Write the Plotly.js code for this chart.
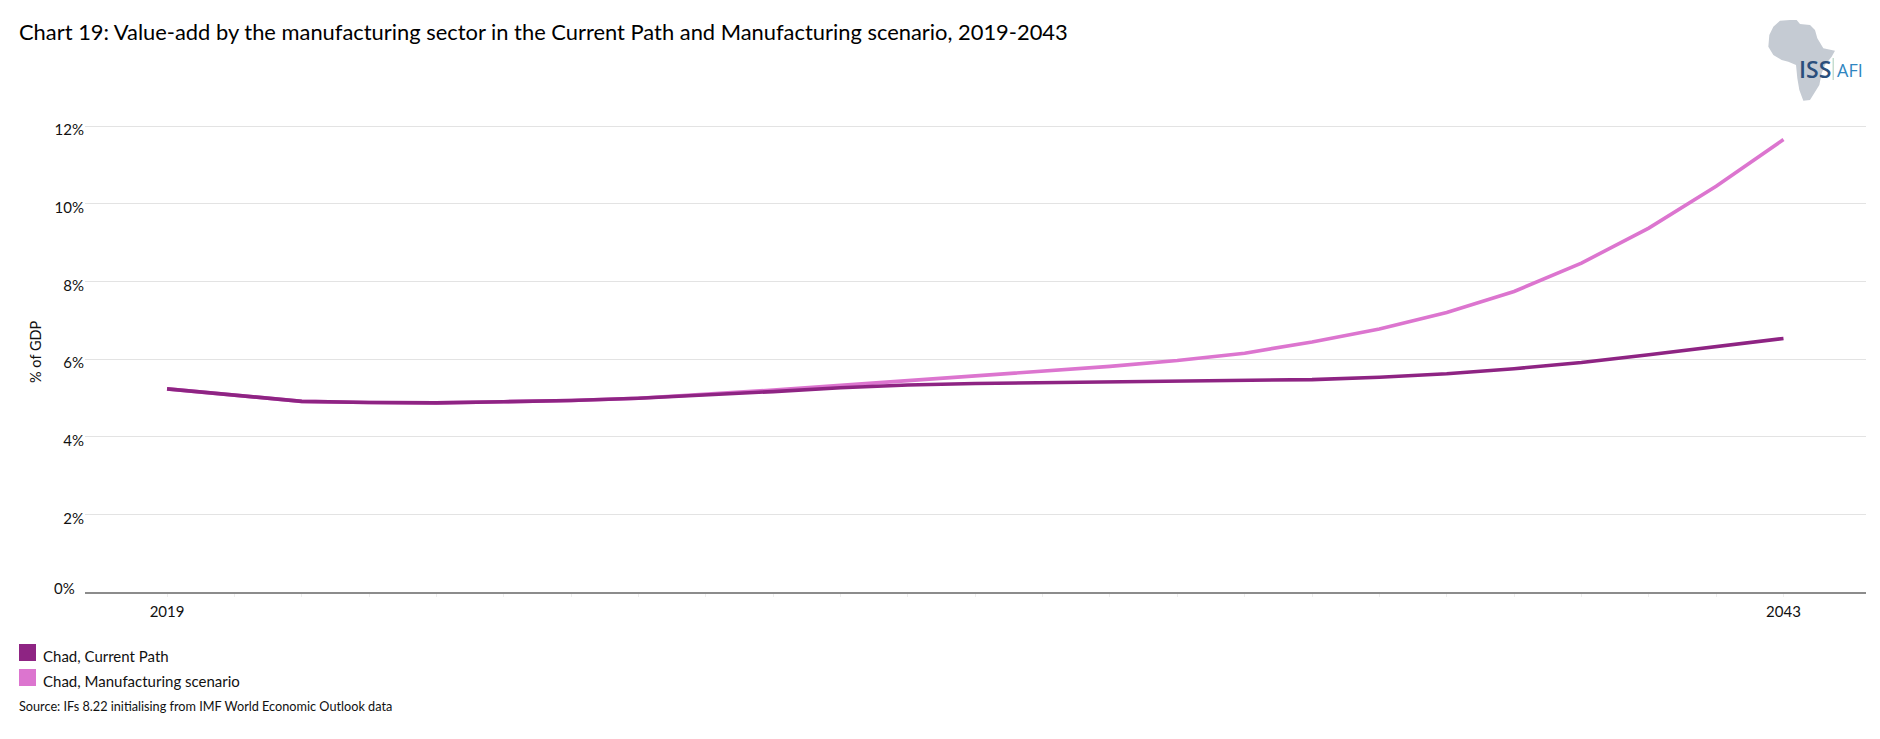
<!DOCTYPE html>
<html>
<head>
<meta charset="utf-8">
<script src="https://cdn.plot.ly/plotly-3.0.1.min.js"></script>
<style>html,body{margin:0;padding:0;background:#fff;overflow:hidden}</style>
</head>
<body>
<div id="chart" style="width:1880px;height:739px"></div>
<script>
const years = [2019,2020,2021,2022,2023,2024,2025,2026,2027,2028,2029,2030,2031,2032,2033,2034,2035,2036,2037,2038,2039,2040,2041,2042,2043];
const currentPath = [5.23,5.08,4.91,4.88,4.87,4.90,4.93,4.99,5.07,5.16,5.26,5.33,5.37,5.39,5.40,5.41,5.43,5.47,5.53,5.62,5.75,5.91,6.11,6.31,6.53];
const manufacturing = [5.23,5.08,4.91,4.88,4.87,4.90,4.93,4.99,5.09,5.20,5.32,5.44,5.57,5.69,5.81,5.96,6.15,6.44,6.77,7.20,7.74,8.47,9.37,10.45,11.65];
const seriesNames = ['Chad, Current Path','Chad, Manufacturing scenario'];
const seriesColors = ['#8E2483','#DC75CF'];
const yTickVals = [0,2,4,6,8,10,12];
const yTickText = ['','2%','4%','6%','8%','10%','12%'];
const titleText = 'Chart 19: Value-add by the manufacturing sector in the Current Path and Manufacturing scenario, 2019-2043';
const sourceText = 'Source: IFs 8.22 initialising from IMF World Economic Outlook data';
const font = 'Lato, "Open Sans", sans-serif';

const W = 1880, H = 739;
const mL = 85, mR = 14, mT = 125, mB = 147;
const px = v => (v - mL) / (W - mL - mR);
const py = v => 1 - (v - mT) / (H - mT - mB);
const text = (t, x, y, size, color, extra) => Object.assign({
  text: t, xref: 'paper', yref: 'paper', x: px(x), y: py(y), showarrow: false,
  xanchor: 'left', yanchor: 'middle', borderpad: 0,
  font: {family: font, size: size, color: color}
}, extra || {});

// Logo outline, in zoomed logo pixels
const logo = [[60,32],[90,30],[110,30],[120,42],[150,45],[165,60],[172,85],[190,115],[225,122],[215,140],[195,165],[185,190],[178,225],[150,270],[130,272],[118,240],[112,205],[108,165],[85,155],[65,150],[40,135],[25,110],[28,75],[40,50]];
const logoPath = logo.map((p,i) => (i ? 'L' : 'M') + px(1760 + p[0]/3).toFixed(5) + ',' + py(10 + p[1]/3).toFixed(5)).join(' ') + ' Z';

const swatch = (y, c) => ({type:'rect', xref:'paper', yref:'paper', x0:px(19), x1:px(36), y0:py(y), y1:py(y+17), fillcolor:c, line:{width:0}});

Plotly.newPlot('chart', [
  {type:'scatter', mode:'lines', name:seriesNames[1], x:years, y:manufacturing, line:{color:seriesColors[1], width:3.6}},
  {type:'scatter', mode:'lines', name:seriesNames[0], x:years, y:currentPath, line:{color:seriesColors[0], width:3.6}}
], {
  width: W, height: H,
  paper_bgcolor:'#fff', plot_bgcolor:'#fff',
  showlegend:false,
  margin:{l:mL, r:mR, t:mT, b:mB, pad:0},
  font:{family:font, size:15, color:'#111'},
  xaxis:{
    range:[2017.782,2044.225], tickmode:'array', tickvals:years,
    ticktext:years.map(y => (y===2019||y===2043) ? String(y) : ''),
    ticks:'outside', ticklen:3, tickcolor:'#eeeeee', tickwidth:1, ticklabelstandoff:2,
    showgrid:false, zeroline:false, showline:true, linecolor:'#8c8c8c', linewidth:1.5,
    tickfont:{family:font, size:15, color:'#111'}
  },
  yaxis:{
    range:[0,12.026], tickmode:'array', tickvals:yTickVals, ticktext:yTickText,
    ticks:'', ticklabelshift:4, showgrid:true, gridcolor:'#e3e3e3', gridwidth:1,
    zeroline:false, showline:false,
    tickfont:{family:font, size:15, color:'#111'}
  },
  shapes:[
    swatch(644, seriesColors[0]), swatch(669, seriesColors[1]),
    {type:'path', xref:'paper', yref:'paper', path:logoPath, fillcolor:'#C5CBD3', line:{width:0}},
    {type:'rect', xref:'paper', yref:'paper', x0:px(1832.5), x1:px(1834), y0:py(58), y1:py(80), fillcolor:'#C5DDD0', line:{width:0}}
  ],
  annotations:[
    text(titleText, 18, 31, 21.9, '#000'),
    text('0%', 76, 588, 15, '#111', {xanchor:'right'}),
    text('% of GDP', 35, 352, 14.5, '#111', {xanchor:'center', textangle:-90}),
    text(seriesNames[0], 42, 656, 15, '#111'),
    text(seriesNames[1], 42, 681, 15, '#111'),
    text(sourceText, 18, 706, 12.7, '#111'),
    text('ISS', 1798, 69, 23, '#2B4F7C', {font:{family:'"Open Sans", sans-serif', size:23, color:'#2B4F7C', weight:600}}),
    text('AFI', 1836, 70, 18, '#2F86C1', {font:{family:'"Open Sans", sans-serif', size:18, color:'#2F86C1'}})
  ]
}, {displayModeBar:false, staticPlot:true});
</script>
</body>
</html>
